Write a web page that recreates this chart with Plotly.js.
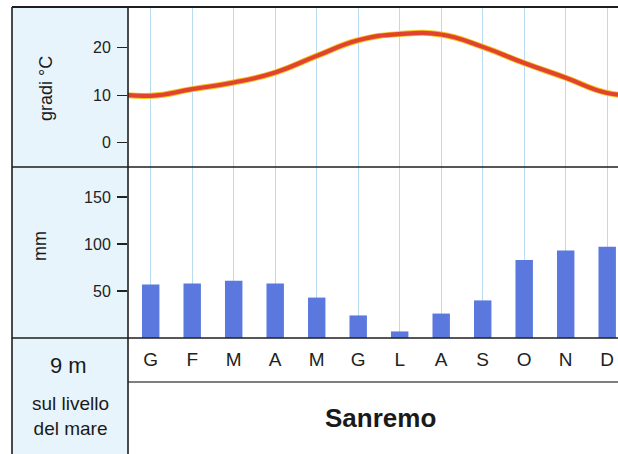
<!DOCTYPE html>
<html><head><meta charset="utf-8">
<script src="https://cdn.plot.ly/plotly-3.0.1.min.js"></script>
<style>html,body{margin:0;padding:0;background:#fff}#chart{width:618px;height:454px}</style>
</head><body><div id="chart"></div>
<script>
const months = ['G','F','M','A','M','G','L','A','S','O','N','D'];
const temperature = [9.9, 11.3, 12.7, 14.8, 18.3, 21.6, 22.9, 22.8, 20.2, 16.8, 13.7, 10.5];
const precipitation = [57, 58, 61, 58, 43, 24, 7, 26, 40, 83, 93, 97];
const tempTicks = [0, 10, 20];
const precTicks = [50, 100, 150];
const station = 'Sanremo';
const altitude = '9 m';

const W = 618, H = 454, L = 128, T = 7, B = 338;
const px = v => (v - L) / (W - L);
const py = v => (B - v) / (B - T);
const FONT = '"Liberation Sans", Arial, sans-serif';

const idx = months.map((m, i) => i);
// wrap around the year so the curve reaches both edges
const tx = [-1].concat(idx, [12]);
const ty = [temperature[11]].concat(temperature, [temperature[0]]);

const traces = [
  {type: 'bar', x: idx, y: precipitation, xaxis: 'x', yaxis: 'y2', width: 0.42,
   marker: {color: '#5b78de', line: {width: 0}}, hoverinfo: 'y'},
  {type: 'scatter', mode: 'lines', x: tx, y: ty, xaxis: 'x2', yaxis: 'y',
   line: {color: '#f5c21e', width: 6, shape: 'spline', smoothing: 1.3}, hoverinfo: 'skip'},
  {type: 'scatter', mode: 'lines', x: tx, y: ty, xaxis: 'x2', yaxis: 'y',
   line: {color: '#e2432f', width: 4.2, shape: 'spline', smoothing: 1.3}, hoverinfo: 'y'}
];

const split = py(167);
const frame = '#1e1e1e';
const shapes = [
  {type: 'rect', xref: 'paper', yref: 'paper', x0: px(12), x1: px(128), y0: py(7), y1: py(460),
   fillcolor: '#e8f4fb', line: {width: 0}, layer: 'below'},
  {type: 'line', xref: 'paper', yref: 'paper', x0: px(12), x1: px(620), y0: py(7), y1: py(7), line: {color: frame, width: 1.8}},
  {type: 'line', xref: 'paper', yref: 'paper', x0: px(12), x1: px(620), y0: py(167), y1: py(167), line: {color: frame, width: 1.6}},
  {type: 'line', xref: 'paper', yref: 'paper', x0: px(12), x1: px(620), y0: py(338), y1: py(338), line: {color: frame, width: 1.6}},
  {type: 'line', xref: 'paper', yref: 'paper', x0: px(128), x1: px(620), y0: py(382), y1: py(382), line: {color: '#555', width: 1.4}},
  {type: 'line', xref: 'paper', yref: 'paper', x0: px(12), x1: px(12), y0: py(7), y1: py(460), line: {color: frame, width: 1.6}},
  {type: 'line', xref: 'paper', yref: 'paper', x0: px(128), x1: px(128), y0: py(7), y1: py(460), line: {color: frame, width: 1.6}}
];

const ann = (text, x, y, size, extra) => Object.assign({
  text: text, xref: 'paper', yref: 'paper', x: px(x), y: py(y), showarrow: false,
  xanchor: 'center', yanchor: 'middle', font: {family: FONT, size: size, color: '#1a1a1a'}
}, extra || {});

const annotations = [
  ann('gradi °C', 46, 89, 18, {textangle: -90}),
  ann('mm', 40, 246, 18, {textangle: -90}),
  ann(altitude, 68, 365, 22),
  ann('sul livello<br>del mare', 70, 416, 19),
  ann('<b>' + station + '</b>', 380, 418, 26)
];

const xr = [-22.7 / 41.5, (618 - 150.7) / 41.5];
const tickFont = {family: FONT, size: 16, color: '#222'};
const layout = {
  width: W, height: H,
  margin: {l: L, r: 0, t: T, b: H - B, pad: 0},
  paper_bgcolor: '#ffffff', plot_bgcolor: '#ffffff',
  showlegend: false,
  xaxis: {range: xr, anchor: 'y2', tickvals: idx, ticktext: months, ticks: '',
          showgrid: true, gridcolor: '#b7dbef', gridwidth: 1, zeroline: false, showline: false,
          ticklabelstandoff: 8,
          tickfont: {family: '"Liberation Sans Narrow", "Liberation Sans", Arial, sans-serif', size: 19, color: '#222'}},
  xaxis2: {range: xr, anchor: 'y', matches: 'x', tickvals: idx, showticklabels: false, ticks: '',
           showgrid: true, gridcolor: '#b7dbef', gridwidth: 1, zeroline: false, showline: false},
  yaxis: {domain: [split, 1], range: [-5.1, 28.6], tickvals: tempTicks, ticks: 'outside', ticklen: 10,
          tickwidth: 1.2, tickcolor: '#222', showgrid: false, zeroline: false, showline: false, tickfont: tickFont,
          ticklabelstandoff: 3},
  yaxis2: {domain: [0, split], range: [0, 181.9], tickvals: precTicks, ticks: 'outside', ticklen: 10,
           tickwidth: 1.2, tickcolor: '#222', showgrid: false, zeroline: false, showline: false, tickfont: tickFont,
           ticklabelstandoff: 3},
  shapes: shapes,
  annotations: annotations
};

Plotly.newPlot('chart', traces, layout, {displayModeBar: false, staticPlot: true});
</script>
</body></html>
